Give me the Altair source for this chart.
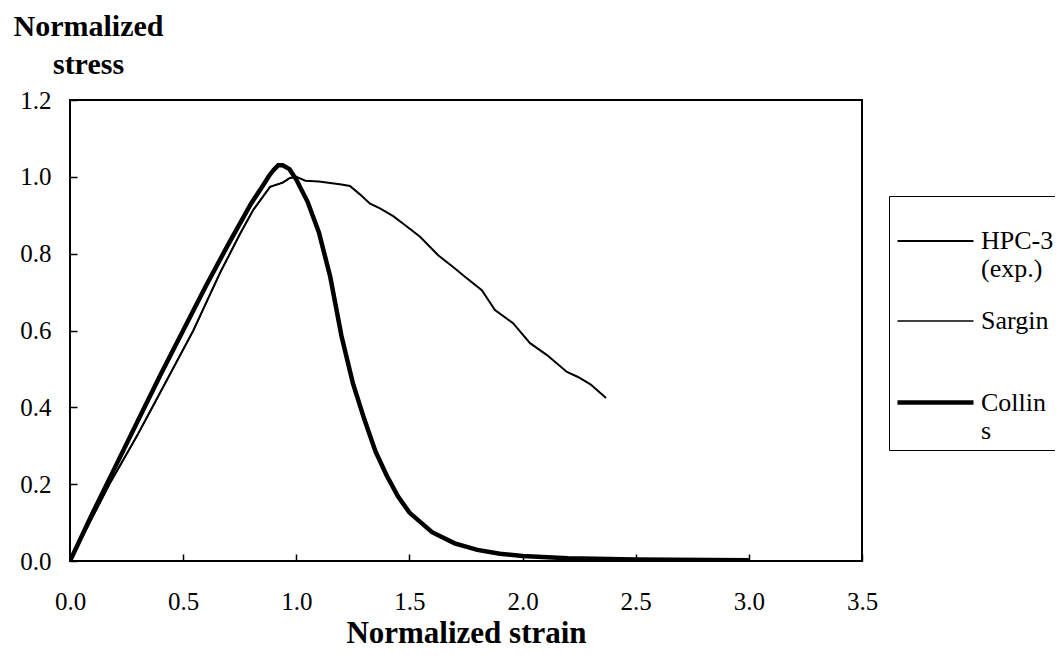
import altair as alt
import pandas as pd

# ---- data ----
hpc_x = [0.0, 0.1, 0.177, 0.3, 0.4, 0.545, 0.663, 0.75, 0.81, 0.884, 0.94, 0.972, 1.0,
         1.04, 1.1, 1.2, 1.237, 1.28, 1.326, 1.37, 1.43, 1.49, 1.547, 1.627, 1.7, 1.737,
         1.82, 1.878, 1.958, 2.033, 2.108, 2.196, 2.245, 2.3, 2.369]
hpc_y = [0.0, 0.115, 0.203, 0.33, 0.44, 0.60, 0.75, 0.85, 0.914, 0.974, 0.985, 0.997, 1.0,
         0.99, 0.988, 0.98, 0.976, 0.955, 0.93, 0.918, 0.897, 0.87, 0.844, 0.796, 0.762, 0.744,
         0.705, 0.653, 0.619, 0.567, 0.536, 0.492, 0.479, 0.46, 0.424]

sargin_x = [0.0, 0.177, 0.3, 0.4, 0.545, 0.663, 0.75, 0.81, 0.884, 0.94, 0.972, 1.0]
sargin_y = [0.0, 0.203, 0.33, 0.44, 0.60, 0.75, 0.85, 0.914, 0.974, 0.985, 0.997, 1.0]

collins_x = [0.0, 0.1, 0.2, 0.3, 0.4, 0.5, 0.6, 0.7, 0.8, 0.85, 0.88, 0.9, 0.92, 0.94, 0.97,
             1.0, 1.05, 1.1, 1.15, 1.2, 1.25, 1.3, 1.35, 1.4, 1.45, 1.5, 1.6, 1.7, 1.8, 1.9,
             2.0, 2.2, 2.5, 3.0]
collins_y = [0.0, 0.125, 0.245, 0.365, 0.485, 0.60, 0.715, 0.825, 0.93, 0.975, 1.003, 1.018,
             1.03, 1.03, 1.02, 0.993, 0.935, 0.855, 0.74, 0.585, 0.463, 0.37, 0.285, 0.222,
             0.168, 0.126, 0.075, 0.046, 0.029, 0.019, 0.013, 0.007, 0.004, 0.002]

series_names = ["HPC-3 (exp.)", "Sargin", "Collins"]
series_widths = [2.0, 1.5, 4.5]
x_ticks = [0.0, 0.5, 1.0, 1.5, 2.0, 2.5, 3.0, 3.5]
y_ticks = [0.0, 0.2, 0.4, 0.6, 0.8, 1.0, 1.2]

rows = []
for name, xs, ys in [(series_names[0], hpc_x, hpc_y),
                     (series_names[1], sargin_x, sargin_y),
                     (series_names[2], collins_x, collins_y)]:
    for i, (a, b) in enumerate(zip(xs, ys)):
        rows.append({"series": name, "strain": a, "stress": b, "idx": i})
df = pd.DataFrame(rows)

FONT = "Liberation Serif"

label_expr = ("datum.label == 'HPC-3 (exp.)' ? ['HPC-3', '(exp.)'] : "
              "datum.label == 'Collins' ? ['Collin', 's'] : [datum.label, '']")

chart = alt.Chart(df).mark_line(color="black", clip=True).encode(
    x=alt.X("strain:Q",
            scale=alt.Scale(domain=[0, 3.5], nice=False, zero=False),
            axis=alt.Axis(values=x_ticks, format=".1f", title="Normalized strain",
                          offset=-7, tickSize=7, tickColor="black", tickWidth=1.5,
                          domain=False, grid=False, labelFlush=False,
                          labelFont=FONT, labelFontSize=25, labelColor="black",
                          labelPadding=28,
                          titleFont=FONT, titleFontSize=31, titleFontWeight="bold",
                          titleColor="black", titlePadding=4)),
    y=alt.Y("stress:Q",
            scale=alt.Scale(domain=[0, 1.2], nice=False),
            axis=alt.Axis(values=y_ticks, format=".1f", title=["Normalized", "stress"],
                          offset=-7, tickSize=7, tickColor="black", tickWidth=1.5,
                          domain=False, grid=False, labelFlush=False,
                          labelFont=FONT, labelFontSize=25, labelColor="black",
                          labelPadding=19,
                          titleFont=FONT, titleFontSize=30, titleFontWeight="bold",
                          titleColor="black", titleAngle=0, titleAlign="center",
                          titleBaseline="alphabetic", titleX=11, titleY=-65,
                          titleLineHeight=38)),
    strokeWidth=alt.StrokeWidth(
        "series:N",
        scale=alt.Scale(type="ordinal", domain=series_names, range=series_widths),
        legend=alt.Legend(title=None, orient="none", legendX=819, legendY=96,
                          symbolType="stroke", symbolSize=5776,
                          symbolStrokeColor="black",
                          labelFont=FONT, labelFontSize=26, labelColor="black",
                          labelExpr=label_expr, labelLimit=300, labelOffset=5,
                          padding=6, rowPadding=0,
                          strokeColor="black", fillColor="white")),
    order="idx:Q",
).properties(
    width=792,
    height=461,
    autosize="none",
    background="white",
    padding={"left": 62, "top": 92, "right": 193, "bottom": 94},
).configure_view(
    stroke="black", strokeWidth=2
)

chart.save("out.html", embed_options={"renderer": "svg", "actions": False})
